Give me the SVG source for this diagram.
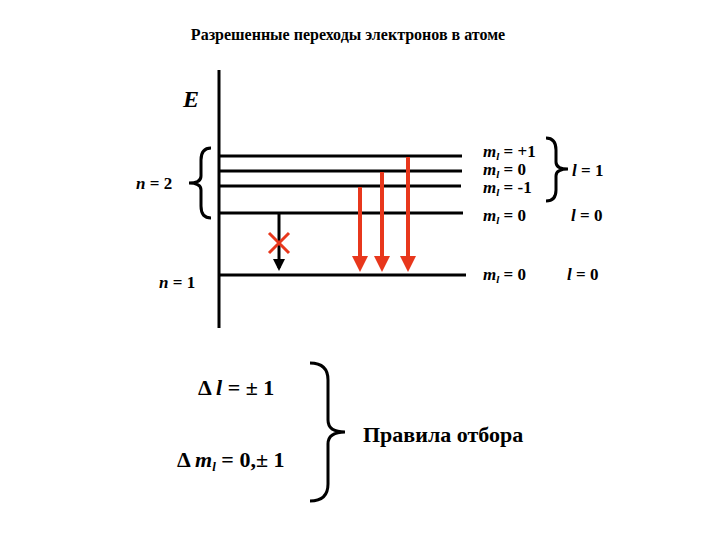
<svg xmlns="http://www.w3.org/2000/svg" width="720" height="540" viewBox="0 0 720 540">
<style>
text{font-family:'Liberation Serif','Times New Roman','DejaVu Serif',serif;font-weight:bold;fill:#000}
.lv{stroke:#000;stroke-width:3}
.br{fill:none;stroke:#000;stroke-width:3}
.red{stroke:#e8371c;stroke-width:4}
.it{font-style:italic}
</style>
<defs>
<marker id="ar" markerWidth="4" markerHeight="4" refX="3" refY="2" orient="auto"><path d="M0,0 L4,2 L0,4z" fill="#e8371c"/></marker>
<marker id="ab" markerWidth="4" markerHeight="4" refX="3" refY="2" orient="auto"><path d="M0,0 L4,2 L0,4z" fill="#000"/></marker>
</defs>
<rect width="720" height="540" fill="#fff"/>
<text x="348" y="40" font-size="16" text-anchor="middle">Разрешенные переходы электронов в атоме</text>
<g id="axis"><line class="lv" x1="219" y1="70" x2="219" y2="328"/><text x="183" y="107" font-size="24" class="it">E</text></g>
<g id="levels">
<line class="lv" x1="220" y1="156" x2="462" y2="156"/>
<line class="lv" x1="220" y1="171" x2="462" y2="171"/>
<line class="lv" x1="220" y1="186" x2="461" y2="186"/>
<line class="lv" x1="220" y1="213" x2="463" y2="213"/>
<line class="lv" x1="220" y1="275" x2="466" y2="275"/>
</g>
<g id="connectors">
<line class="red" x1="360" y1="187" x2="360" y2="268" marker-end="url(#ar)"/>
<line class="red" x1="382" y1="172" x2="382" y2="268" marker-end="url(#ar)"/>
<line class="red" x1="408" y1="157" x2="408" y2="268" marker-end="url(#ar)"/>
<line stroke="#000" stroke-width="3" x1="279" y1="214" x2="279" y2="268" marker-end="url(#ab)"/>
<path d="M269,233 L289,253 M289,233 L269,253" stroke="#e8371c" stroke-width="3"/>
</g>
<g id="n2"><path class="br" d="M211,148 Q201,148 201,160 L201,176 Q201,183 189,183 Q201,183 201,190 L201,206 Q201,218 211,218"/><text x="136" y="189" font-size="17"><tspan class="it">n</tspan> = 2</text></g>
<g id="n1"><text x="159" y="288" font-size="17"><tspan class="it">n</tspan> = 1</text></g>
<g id="ml" font-size="17">
<text x="483" y="157"><tspan class="it">m</tspan><tspan class="it" font-size="11" dy="3">l</tspan><tspan dy="-3"> = +1</tspan></text>
<text x="483" y="175"><tspan class="it">m</tspan><tspan class="it" font-size="11" dy="3">l</tspan><tspan dy="-3"> =  0</tspan></text>
<text x="483" y="193"><tspan class="it">m</tspan><tspan class="it" font-size="11" dy="3">l</tspan><tspan dy="-3"> = -1</tspan></text>
<text x="483" y="221"><tspan class="it">m</tspan><tspan class="it" font-size="11" dy="3">l</tspan><tspan dy="-3"> = 0</tspan></text>
<text x="483" y="280"><tspan class="it">m</tspan><tspan class="it" font-size="11" dy="3">l</tspan><tspan dy="-3"> = 0</tspan></text>
</g>
<g id="l1"><path class="br" d="M546,138 Q556,138 556,150 L556,162 Q556,169 568,169 Q556,169 556,176 L556,190 Q556,201 546,201"/><text x="572" y="176" font-size="17"><tspan class="it">l</tspan> = 1</text></g>
<g id="l0" font-size="17"><text x="571" y="221"><tspan class="it">l</tspan> = 0</text><text x="567" y="280"><tspan class="it">l</tspan> = 0</text></g>
<g id="rules">
<path class="br" d="M310,363 Q328,363 328,380 L328,420 Q328,432 345,432 Q328,432 328,444 L328,484 Q328,501 310,501"/>
<text x="198" y="395" font-size="22">Δ <tspan class="it">l</tspan> = ± 1</text>
<text x="177" y="467" font-size="22">Δ <tspan class="it">m</tspan><tspan class="it" font-size="13" dy="4">l</tspan><tspan dy="-4"> = 0,± 1</tspan></text>
<text x="363" y="442" font-size="22">Правила отбора</text>
</g>
</svg>
